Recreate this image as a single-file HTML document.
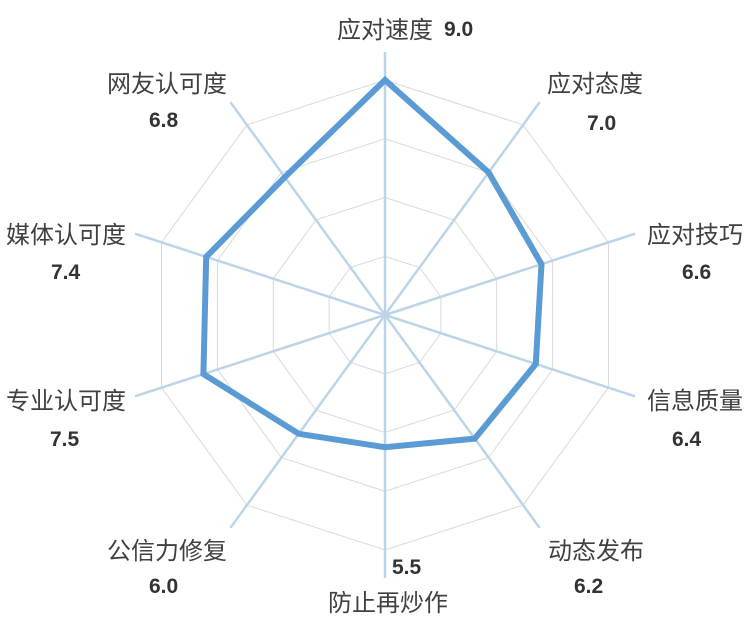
<!DOCTYPE html>
<html><head><meta charset="utf-8"><style>
html,body{margin:0;padding:0;background:#fff;}
svg{display:block;}
.l{font-family:"Liberation Sans","Noto Sans CJK SC",sans-serif;font-size:24px;fill:#404040;}
.v{font-family:"Liberation Sans",sans-serif;font-size:21px;font-weight:bold;fill:#333;}
</style></head><body>
<svg id="s" width="756" height="619" viewBox="0 0 756 619" xmlns="http://www.w3.org/2000/svg">
<g id="g"></g>
<polygon points="385,80 488.6,172.4 541.5,264.2 535.8,364 474.8,438.6 385,447.2 298.7,433.8 203.4,374 206.2,256.9 284.8,177.1" fill="none" stroke="#5b9bd5" stroke-width="6" stroke-linejoin="miter"/>
<text class="l" x="337" y="38">应对速度</text><text class="v" x="444" y="36">9.0</text>
<text class="l" x="547" y="92">应对态度</text><text class="v" x="587" y="130">7.0</text>
<text class="l" x="647" y="243">应对技巧</text><text class="v" x="682" y="279">6.6</text>
<text class="l" x="647" y="409">信息质量</text><text class="v" x="672" y="446">6.4</text>
<text class="l" x="548" y="559">动态发布</text><text class="v" x="574" y="593">6.2</text>
<text class="v" x="392" y="574">5.5</text><text class="l" x="328" y="611">防止再炒作</text>
<text class="l" x="107" y="559">公信力修复</text><text class="v" x="149" y="593">6.0</text>
<text class="l" x="6" y="409">专业认可度</text><text class="v" x="50" y="446">7.5</text>
<text class="l" x="6" y="243">媒体认可度</text><text class="v" x="51" y="279">7.4</text>
<text class="l" x="107" y="92">网友认可度</text><text class="v" x="149" y="127">6.8</text>
</svg>
<script>
var g=document.getElementById('g'),cx=385,cy=315,h='';
for(var k=1;k<=4;k++){var r=58.75*k,p=[];for(var i=0;i<10;i++){var a=i*Math.PI/5;p.push((cx+r*Math.sin(a)).toFixed(1)+','+(cy-r*Math.cos(a)).toFixed(1));}
h+='<polygon points="'+p.join(' ')+'" fill="none" stroke="#d9d9d9" stroke-width="1"/>';}
for(var i=0;i<10;i++){var a=i*Math.PI/5;h+='<line x1="'+cx+'" y1="'+cy+'" x2="'+(cx+263*Math.sin(a)).toFixed(1)+'" y2="'+(cy-263*Math.cos(a)).toFixed(1)+'" stroke="#bcd4ea" stroke-width="2.5"/>';}
g.innerHTML=h;
</script>
</body></html>
